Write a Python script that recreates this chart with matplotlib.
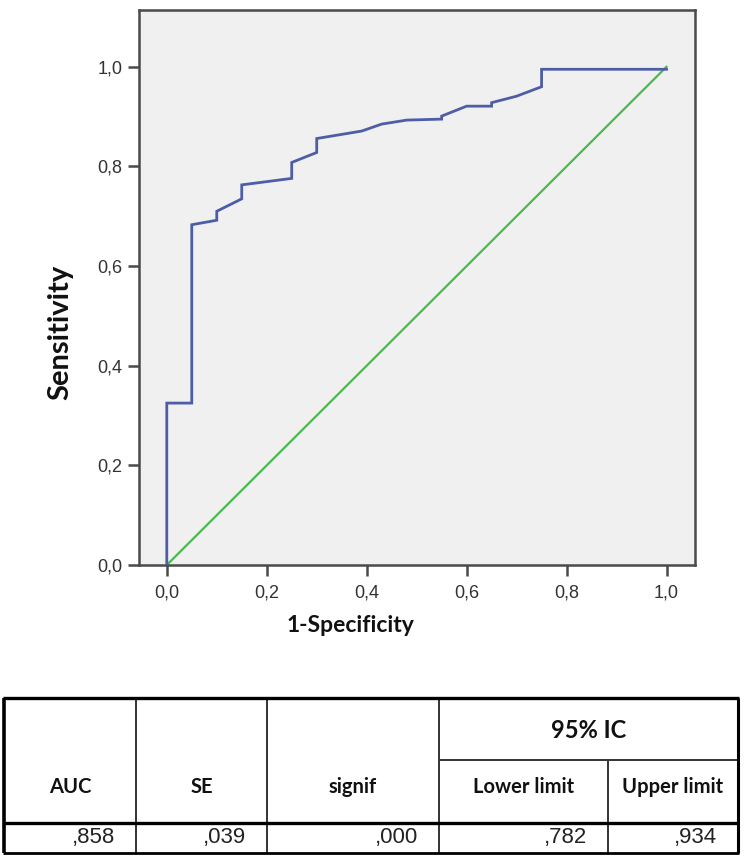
import matplotlib
matplotlib.use("Agg")
import matplotlib.pyplot as plt
from matplotlib.lines import Line2D

# ROC curve data (1-Specificity, Sensitivity)
fpr = [0.0, 0.0, 0.05, 0.05, 0.10, 0.10, 0.15, 0.15, 0.25, 0.25, 0.30, 0.30,
       0.39, 0.43, 0.48, 0.55, 0.55, 0.60, 0.65, 0.65, 0.70, 0.75, 0.75, 1.0]
tpr = [0.0, 0.325, 0.325, 0.683, 0.692, 0.710, 0.735, 0.763, 0.776, 0.808, 0.828, 0.856,
       0.871, 0.885, 0.893, 0.895, 0.901, 0.921, 0.921, 0.928, 0.941, 0.960, 0.995, 0.995]
ref_x = [0.0, 1.0]
ref_y = [0.0, 1.0]
ticks = [0.0, 0.2, 0.4, 0.6, 0.8, 1.0]
tick_labels = ["0,0", "0,2", "0,4", "0,6", "0,8", "1,0"]

# table data
header_top = ["95% IC"]
header_cols = ["AUC", "SE", "signif", "Lower limit", "Upper limit"]
table_values = [",858", ",039", ",000", ",782", ",934"]

W, H = 749, 864
fig = plt.figure(figsize=(W / 100, H / 100), dpi=100)
fig.patch.set_facecolor("white")

ax = fig.add_axes([139.3 / W, 1 - 565 / H, (695 - 139.3) / W, (565 - 10) / H])
ax.set_facecolor("#f0f0f0")
ax.plot(fpr, tpr, color="#4d5ea6", lw=2.0, solid_joinstyle="miter", zorder=3)
ax.plot(ref_x, ref_y, color="#4cb850", lw=1.6, zorder=2)
ax.set_xlim(-0.055, 1.057)
ax.set_ylim(0.0, 1.114)
ax.set_xticks(ticks)
ax.set_xticklabels(tick_labels)
ax.set_yticks(ticks)
ax.set_yticklabels(tick_labels)
for s in ax.spines.values():
    s.set_color("#4a4a4a")
    s.set_linewidth(1.8)
ax.tick_params(axis="both", direction="out", length=8, width=1.8, color="#4a4a4a",
               labelsize=13, labelcolor="#333333", pad=4)
ax.tick_params(axis="x", pad=6)
for lab in ax.get_xticklabels() + ax.get_yticklabels():
    lab.set_fontfamily("Liberation Sans")

fig.text(351 / W, 1 - 626 / H, "1-Specificity", ha="center", va="center",
         fontsize=16.5, fontweight="bold", family="Lato", color="#111111")
fig.text(60 / W, 1 - 332 / H, "Sensitivity", ha="center", va="center", rotation=90,
         fontsize=21, fontweight="bold", family="Lato", color="#111111")

# table drawn in pixel coordinates
tax = fig.add_axes([0, 0, 1, 1])
tax.set_xlim(0, W)
tax.set_ylim(H, 0)
tax.axis("off")
tax.patch.set_alpha(0)

cx = [4, 136, 267, 439, 608, 738]
y_top, y_sub, y_head, y_bot = 698, 760, 823, 853

def hline(x0, x1, y, lw, c="black"):
    tax.add_line(Line2D([x0, x1], [y, y], color=c, lw=lw, solid_capstyle="butt"))

def vline(x, y0, y1, lw, c="black"):
    tax.add_line(Line2D([x, x], [y0, y1], color=c, lw=lw, solid_capstyle="butt"))

# inner lines
for x in cx[1:4]:
    vline(x, y_top, y_bot, 1.4, "#333333")
vline(cx[4], y_sub, y_bot, 1.4, "#333333")
hline(cx[3], cx[5], y_sub, 1.4, "#333333")
hline(cx[0], cx[5], y_head, 2.4)
# outer border
hline(cx[0] - 1, cx[5] + 1, y_top, 2.4)
hline(cx[0] - 1, cx[5] + 1, y_bot, 2.0)
vline(cx[0], y_top, y_bot, 2.6)
vline(cx[5], y_top, y_bot, 2.2)

tax.text((cx[3] + cx[5]) / 2, 731, header_top[0], ha="center", va="center",
         fontsize=17, fontweight="bold", family="Lato", color="#111111")
for i, h in enumerate(header_cols):
    tax.text((cx[i] + cx[i + 1]) / 2, 787, h, ha="center", va="center",
             fontsize=14.5, fontweight="bold", family="Lato", color="#111111")
for i, v in enumerate(table_values):
    tax.text(cx[i + 1] - 21, 838, v, ha="right", va="center",
             fontsize=16, family="Liberation Sans", color="#222222")

fig.savefig("out.png", dpi=100, facecolor="white")
